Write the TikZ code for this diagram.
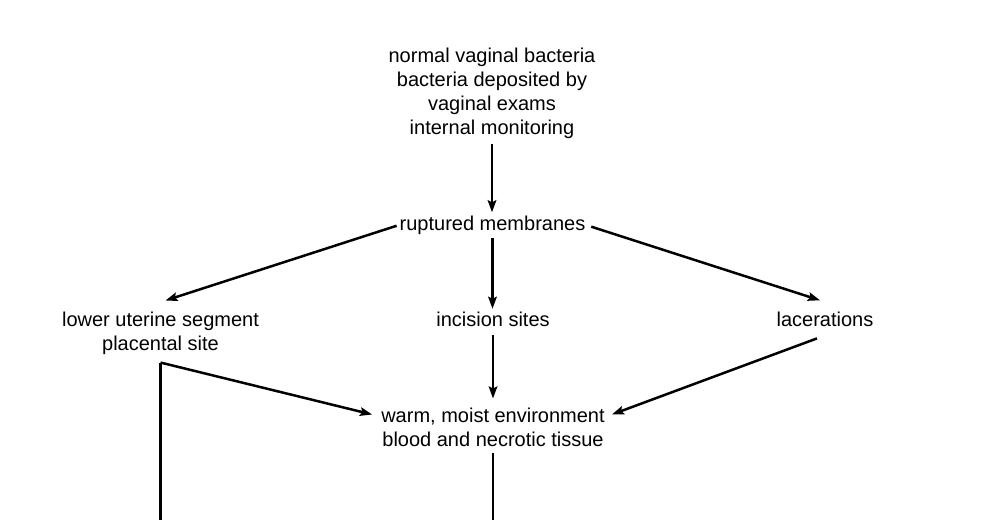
\documentclass[tikz,border=0pt]{standalone}
\usepackage{fontspec}
\setmainfont{Liberation Sans}
\usetikzlibrary{arrows.meta,calc}
\begin{document}
\begin{tikzpicture}[x=1pt,y=-1pt,
  lbl/.style={inner sep=0pt,align=center,font=\fontsize{20}{24}\selectfont},
  conn/.style={line width=2.5pt},
  arr/.style={conn,-{Stealth[length=12pt,width=8.5pt,inset=2pt]}}]
\useasboundingbox[fill=white] (0,0) rectangle (990,520);
\node[lbl,anchor=north] (top) at (492,47.5) {normal vaginal bacteria\\bacteria deposited by\\vaginal exams\\internal monitoring};
\node[lbl,anchor=base] (rm) at (492.5,230) {ruptured membranes};
\node[lbl,anchor=north] (lus) at (160.5,311.5) {lower uterine segment\\placental site};
\node[lbl,anchor=base] (inc) at (493,326) {incision sites};
\node[lbl,anchor=base] (lac) at (825,326) {lacerations};
\node[lbl,anchor=north] (warm) at (493,407.5) {warm, moist environment\\blood and necrotic tissue};
\coordinate (lc) at ([yshift=-8pt]lus.south);
\coordinate (bot) at (0,520);
\draw[arr,shorten <=5pt,shorten >=3pt] (top.south) -- (top.south |- rm.north);
\draw[arr,shorten <=3pt] (rm.west) -- ([xshift=5pt,yshift=11pt]lus.north);
\draw[arr,shorten <=6pt] (rm.east) -- ([xshift=-5pt,yshift=11pt]lac.north);
\draw[arr,shorten <=4pt,shorten >=2.5pt] (rm.south) -- (rm.south |- inc.north);
\draw[arr,shorten <=9pt,shorten >=9pt] (inc.south) -- (inc.south |- warm.north);
\draw[arr] ([xshift=-8pt,yshift=-12pt]lac.south) -- ([xshift=7pt,yshift=-7pt]warm.north east);
\draw[arr] (lc) -- ([xshift=-9pt,yshift=-7pt]warm.north west);
\draw[conn] (lc) -- (lc |- bot);
\draw[conn,shorten <=6pt] (warm.south) -- (warm.south |- bot);
\end{tikzpicture}
\end{document}
